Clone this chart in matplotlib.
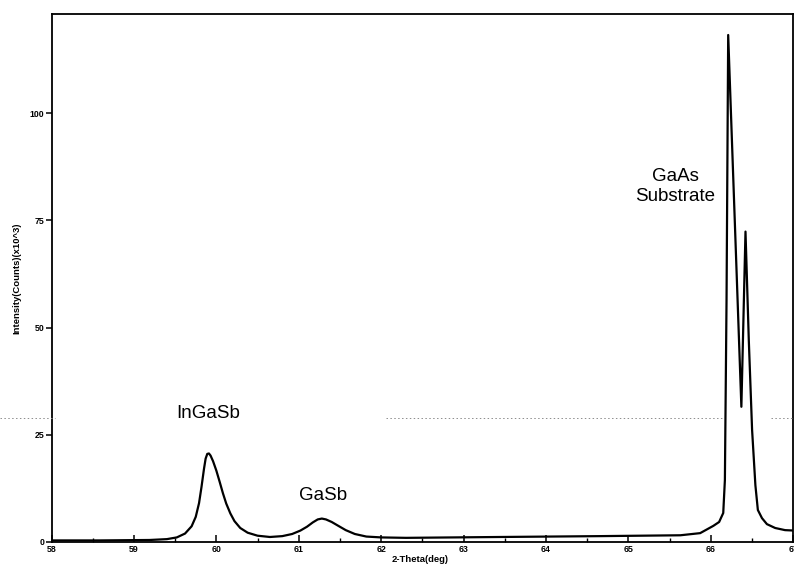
import matplotlib
matplotlib.use("Agg")
import matplotlib.pyplot as plt
from matplotlib.lines import Line2D
from matplotlib.ticker import MultipleLocator

plt.rcParams['font.family'] = ['Liberation Sans', 'DejaVu Sans']

# ----------------------- XRD scan (2-theta vs intensity) -----------------------

two_theta = [
    58.00, 58.59, 59.19, 59.40, 59.52, 59.62, 59.70, 59.75, 59.79, 59.82,
    59.85, 59.87, 59.89, 59.91, 59.93, 59.96, 60.00, 60.04, 60.08, 60.12,
    60.17, 60.22, 60.29, 60.38, 60.50, 60.65, 60.80, 60.92, 61.02, 61.10,
    61.17, 61.23, 61.28, 61.33, 61.40, 61.48, 61.57, 61.68, 61.82, 62.00,
    62.30, 63.44, 64.65, 65.63, 65.87, 66.03, 66.10, 66.15, 66.17, 66.19,
    66.21, 66.37, 66.42, 66.46, 66.50, 66.54, 66.57, 66.62, 66.68, 66.78,
    66.90, 67.01,
]
intensity = [
    0.3, 0.3, 0.4, 0.6, 1.0, 1.9, 3.6, 5.8, 9.0, 12.8,
    17.0, 19.4, 20.5, 20.6, 20.1, 18.8, 16.6, 14.0, 11.3, 8.9,
    6.6, 4.8, 3.2, 2.1, 1.4, 1.1, 1.3, 1.8, 2.6, 3.5,
    4.5, 5.2, 5.4, 5.2, 4.6, 3.7, 2.7, 1.8, 1.2, 1.0,
    0.9, 1.1, 1.3, 1.5, 2.0, 3.7, 4.6, 6.7, 14.4, 56.4,
    118.3, 31.5, 72.4, 47.1, 26.1, 13.2, 7.4, 5.5, 4.1, 3.2,
    2.7, 2.6,
]

peak_labels = ["InGaSb", "GaSb", "GaAs\nSubstrate"]
label_pos = [(59.90, 30.0), (61.29, 10.7), (65.57, 83.0)]

y_ticks = [0, 25, 50, 75, 100]
x_ticks = list(range(58, 68))

# ----------------------- Figure -----------------------

fig = plt.figure(figsize=(7.94, 5.67), dpi=100)
ax = fig.add_axes([51.5 / 794, 1 - 541.7 / 567, (793.3 - 51.5) / 794, (541.7 - 14) / 567])

ax.plot(two_theta, intensity, color='black', lw=1.6, solid_joinstyle='round')

ax.set_xlim(58, 67)
ax.set_ylim(0, 123.2)

ax.set_xticks(x_ticks)
ax.xaxis.set_minor_locator(MultipleLocator(0.5))
ax.set_yticks(y_ticks)
ax.tick_params(axis='x', which='major', direction='in', length=5, width=1.1,
               labelsize=6.3, pad=2.5)
ax.tick_params(axis='x', which='minor', direction='in', length=3, width=1.0)
ax.tick_params(axis='y', which='major', direction='out', length=4, width=1.1,
               labelsize=6.3, pad=1)
for lbl in ax.get_xticklabels() + ax.get_yticklabels():
    lbl.set_fontweight('bold')

for sp in ax.spines.values():
    sp.set_linewidth(1.3)

ax.set_xlabel("2-Theta(deg)", fontsize=6.8, fontweight='bold')
ax.xaxis.set_label_coords((420 - 51.5) / (793.3 - 51.5), -0.026)
ax.set_ylabel("Intensity(Counts)(x10^3)", fontsize=6.8, fontweight='bold', labelpad=6)

for text, (x, y) in zip(peak_labels, label_pos):
    ax.text(x, y, text, fontsize=13.5, ha='center', va='center', linespacing=1.25)

# faint dotted scan line running across the sheet
for x0, x1 in [(0, 55), (386, 724), (771, 794)]:
    fig.add_artist(Line2D([x0 / 794, x1 / 794], [1 - 418 / 567] * 2,
                          transform=fig.transFigure, color='0.55', lw=0.7,
                          ls=(0, (1.5, 2.5))))

fig.savefig("out.png", dpi=100, facecolor='white')
